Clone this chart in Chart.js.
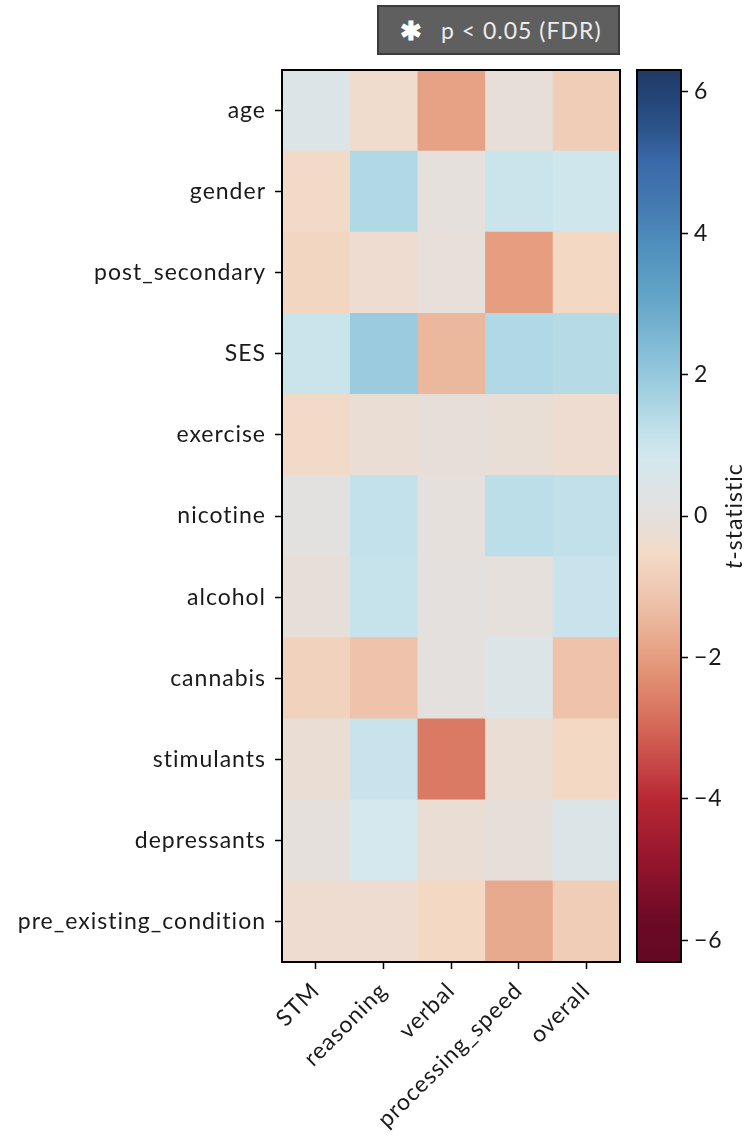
<!DOCTYPE html>
<html>
<head>
<meta charset="utf-8">
<script src="https://cdn.jsdelivr.net/npm/chart.js@4.4.1/dist/chart.umd.min.js"></script>
<style>
  html, body { margin: 0; padding: 0; background: #fff; }
  #wrap { position: relative; width: 747px; height: 1138px; }
  #heat { position: absolute; left: 0; top: 0; }
  #cbar { position: absolute; left: 600px; top: 0; }
  #sig {
    position: absolute; left: 377px; top: 5px; width: 239px; height: 46px;
    background: #5f5f5f; border: 2px solid #3c3c3c;
    color: #ececec; font: 23px Lato, sans-serif; letter-spacing: 1px;
    display: flex; align-items: center; box-sizing: content-box;
  }
  #sig b { font-size: 26px; color: #fff; margin-left: 21px; margin-right: 19px; letter-spacing: 0; }
</style>
</head>
<body>
<div id="wrap">
  <canvas id="heat" width="747" height="1138"></canvas>
  <canvas id="cbar" width="147" height="1138"></canvas>
  <div id="sig"><b>✱</b>p &lt; 0.05 (FDR)</div>
</div>
<script>
// rows (predictors) and columns (cognitive scores)
const predictors = ['age', 'gender', 'post_secondary', 'SES', 'exercise', 'nicotine',
  'alcohol', 'cannabis', 'stimulants', 'depressants', 'pre_existing_condition'];
const scores = ['STM', 'reasoning', 'verbal', 'processing_speed', 'overall'];

// t-statistics, one array per score column (same order as predictors)
const stmT       = [0.5, -0.5, -0.65, 1.0, -0.5, 0.1, -0.1, -0.75, -0.25, 0.0, -0.35];
const reasoningT = [-0.4, 1.5, -0.35, 1.9, -0.25, 1.15, 1.1, -1.2, 1.05, 0.75, -0.35];
const verbalT    = [-1.9, 0.0, -0.05, -1.45, -0.1, 0.0, 0.05, 0.05, -2.65, -0.25, -0.6];
const speedT     = [-0.15, 1.0, -2.0, 1.5, -0.2, 1.3, 0.0, 0.5, -0.25, -0.1, -1.75];
const overallT   = [-0.9, 0.9, -0.6, 1.4, -0.35, 1.2, 1.05, -1.2, -0.6, 0.5, -0.9];
const columnT = [stmT, reasoningT, verbalT, speedT, overallT];

const cbTicks = [-6, -4, -2, 0, 2, 4, 6];
const vmax = 6.31;

// colour map sampled from the reference colour bar (0 = red end, 1 = blue end)
const cmap = [
  [0.000, [100, 8, 36]],
  [0.050, [110, 10, 38]],
  [0.116, [150, 22, 45]],
  [0.183, [185, 40, 52]],
  [0.227, [200, 75, 72]],
  [0.272, [215, 110, 92]],
  [0.328, [228, 148, 118]],
  [0.362, [232, 170, 142]],
  [0.407, [238, 195, 172]],
  [0.457, [243, 218, 198]],
  [0.485, [232, 222, 214]],
  [0.518, [225, 226, 227]],
  [0.563, [212, 232, 238]],
  [0.597, [192, 224, 234]],
  [0.664, [145, 198, 220]],
  [0.742, [100, 165, 200]],
  [0.798, [80, 145, 190]],
  [0.854, [66, 120, 175]],
  [0.899, [57, 105, 168]],
  [0.933, [45, 85, 140]],
  [0.967, [35, 70, 120]],
  [1.000, [31, 58, 104]]
];

function colorAt(t) {
  t = Math.max(0, Math.min(1, t));
  for (let i = 1; i < cmap.length; i++) {
    if (t <= cmap[i][0]) {
      const [t0, c0] = cmap[i - 1], [t1, c1] = cmap[i];
      const f = (t - t0) / (t1 - t0);
      const c = c0.map((v, k) => Math.round(v + (c1[k] - v) * f));
      return `rgb(${c[0]},${c[1]},${c[2]})`;
    }
  }
  return 'rgb(31,58,104)';
}
const tColor = v => colorAt((v + vmax) / (2 * vmax));

const font = { family: 'Lato, sans-serif', size: 23 };
const ink = '#1a1a1a';

// the reference font is wide, so open the letters up a little
const spacing = {
  id: 'spacing',
  beforeLayout(chart) { chart.ctx.letterSpacing = '1px'; },
  beforeDraw(chart) { chart.ctx.letterSpacing = '1px'; }
};

// frame round the heatmap
const framePlugin = {
  id: 'frame',
  afterDraw(chart) {
    const { ctx, chartArea: a } = chart;
    ctx.save();
    ctx.strokeStyle = '#000';
    ctx.lineWidth = 2;
    ctx.strokeRect(a.left, a.top, a.right - a.left, a.bottom - a.top);
    ctx.restore();
  }
};

new Chart(document.getElementById('heat'), {
  type: 'bar',
  data: {
    labels: predictors,
    datasets: scores.map((s, j) => ({
      label: s,
      data: predictors.map(() => [j, j + 1]),
      backgroundColor: columnT[j].map(tColor),
      borderWidth: 0,
      barPercentage: 1,
      categoryPercentage: 1,
      grouped: false
    }))
  },
  options: {
    indexAxis: 'y',
    responsive: false,
    animation: false,
    layout: { padding: { top: 70, right: 127, left: 0, bottom: 0 } },
    plugins: { legend: { display: false }, tooltip: { enabled: false } },
    scales: {
      y: {
        type: 'category',
        afterFit: s => { s.width = 282; },
        grid: { offset: false, drawOnChartArea: false, tickLength: 7, tickColor: '#000', tickWidth: 1.5 },
        border: { display: false },
        ticks: { color: ink, font, padding: 9 }
      },
      x: {
        type: 'linear',
        min: 0,
        max: scores.length,
        afterBuildTicks: s => { s.ticks = scores.map((c, j) => ({ value: j + 0.5 })); },
        afterFit: s => { s.height = 176; },
        grid: { drawOnChartArea: false, tickLength: 7, tickColor: '#000', tickWidth: 1.5 },
        border: { display: false },
        ticks: {
          color: ink, font, autoSkip: false, minRotation: 45, maxRotation: 45, padding: 8,
          callback: (v, i) => scores[i]
        }
      }
    }
  },
  plugins: [spacing, framePlugin]
});

// colour bar
const cbarPlugin = {
  id: 'cbarFill',
  beforeDatasetsDraw(chart) {
    const { ctx, chartArea: a } = chart;
    const g = ctx.createLinearGradient(0, a.bottom, 0, a.top);
    cmap.forEach(([t, c]) => g.addColorStop(t, `rgb(${c[0]},${c[1]},${c[2]})`));
    ctx.save();
    ctx.fillStyle = g;
    ctx.fillRect(a.left, a.top, a.right - a.left, a.bottom - a.top);
    ctx.restore();
  },
  afterDraw(chart) {
    const { ctx, chartArea: a } = chart;
    ctx.save();
    ctx.strokeStyle = '#000';
    ctx.lineWidth = 2;
    ctx.strokeRect(a.left, a.top, a.right - a.left, a.bottom - a.top);
    // axis title, reading bottom to top, with an italic t
    ctx.translate(135, (a.top + a.bottom) / 2);
    ctx.rotate(-Math.PI / 2);
    ctx.fillStyle = ink;
    ctx.textBaseline = 'middle';
    ctx.font = 'italic 23px Lato, sans-serif';
    const w1 = ctx.measureText('t').width;
    ctx.font = '23px Lato, sans-serif';
    const w2 = ctx.measureText('-statistic').width;
    const x0 = -(w1 + w2) / 2;
    ctx.font = 'italic 23px Lato, sans-serif';
    ctx.fillText('t', x0, 0);
    ctx.font = '23px Lato, sans-serif';
    ctx.fillText('-statistic', x0 + w1, 0);
    ctx.restore();
  }
};

new Chart(document.getElementById('cbar'), {
  type: 'scatter',
  data: { datasets: [{ data: [] }] },
  options: {
    responsive: false,
    animation: false,
    layout: { padding: { top: 70, right: 0, left: 37, bottom: 176 } },
    plugins: { legend: { display: false }, tooltip: { enabled: false } },
    scales: {
      x: { display: false, min: 0, max: 1 },
      y: {
        position: 'right',
        min: -vmax,
        max: vmax,
        afterBuildTicks: s => { s.ticks = cbTicks.map(v => ({ value: v })); },
        afterFit: s => { s.width = 66; },
        grid: { drawOnChartArea: false, tickLength: 7, tickColor: '#000', tickWidth: 1.5 },
        border: { display: false },
        ticks: {
          color: ink, font, padding: 6,
          callback: v => (v < 0 ? '\u2212' + Math.abs(v) : String(v))
        }
      }
    }
  },
  plugins: [spacing, cbarPlugin]
});
</script>
</body>
</html>
